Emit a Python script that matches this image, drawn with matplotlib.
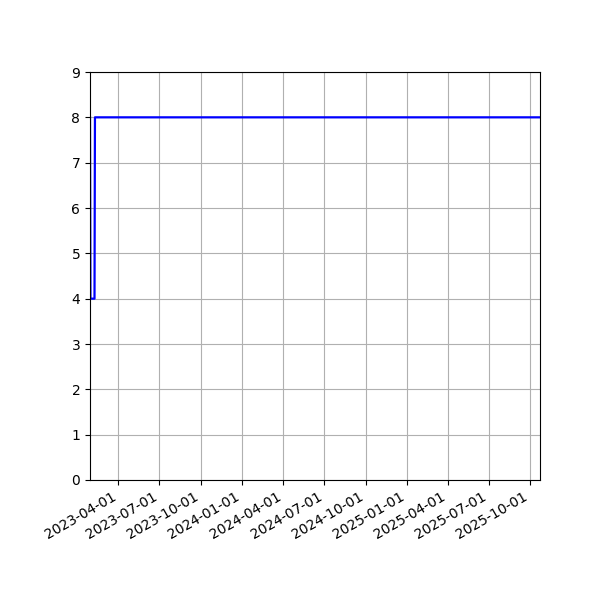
import matplotlib
matplotlib.use('Agg')
import matplotlib.pyplot as plt
import matplotlib.dates as mdates
import numpy as np
from datetime import datetime

# readings over time
dates = ['2023-01-28', '2023-01-29', '2023-02-07', '2023-02-08', '2025-10-23']
values = [8, 4, 4, 8, 8]

x = [datetime.strptime(d, '%Y-%m-%d') for d in dates]

fig, ax = plt.subplots(figsize=(6, 6), dpi=100)
fig.subplots_adjust(left=0.15, right=0.9, top=0.88, bottom=0.2)

ax.plot(x, values, color='blue', linewidth=1.6)

ax.set_xlim(x[0], x[-1])
ax.set_ylim(0, 9)
ax.set_yticks(np.arange(0, 10, 1))
ax.xaxis.set_major_locator(mdates.MonthLocator(bymonth=[1, 4, 7, 10]))
ax.xaxis.set_major_formatter(mdates.DateFormatter('%Y-%m-%d'))
ax.grid(True)

plt.setp(ax.get_xticklabels(), rotation=30, ha='right')

fig.savefig('out.png', dpi=100)
